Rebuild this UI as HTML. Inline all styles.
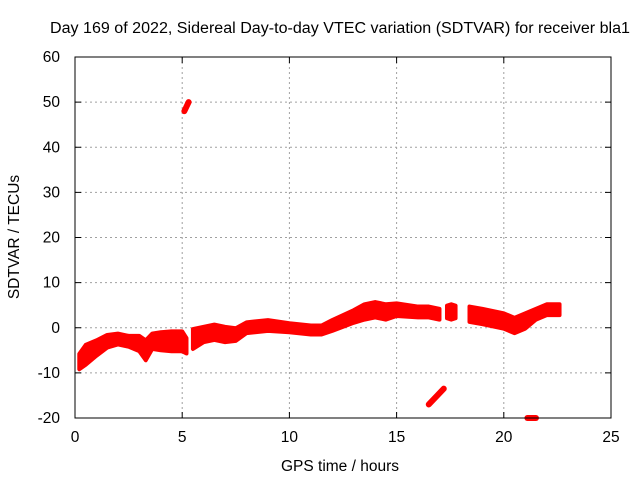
<!DOCTYPE html>
<html><head><meta charset="utf-8"><style>
body{margin:0;background:#fff}
svg{display:block;font-family:"Liberation Sans",sans-serif}
</style></head><body>
<svg width="640" height="480">
<rect width="640" height="480" fill="#fff"/>
<text x="340" y="33" font-size="15.5" text-anchor="middle" textLength="580" lengthAdjust="spacingAndGlyphs">Day 169 of 2022, Sidereal Day-to-day VTEC variation (SDTVAR) for receiver bla1</text>
<g id="grid"></g>
<g id="ticks"></g>
<g id="marks"></g>
<rect x="75" y="57" width="536" height="361" fill="none" stroke="#000"/>
<text x="340" y="471" font-size="15.5" text-anchor="middle">GPS time / hours</text>
<text transform="translate(19,237) rotate(-90)" font-size="15.5" text-anchor="middle">SDTVAR / TECUs</text>
</svg>
<script>
const xTicks=[0,5,10,15,20,25];
const yTicks=[-20,-10,0,10,20,30,40,50,60];
// main band: time, centre value, half-width
const bandA_t=[0.2,0.5,1.0,1.5,2.0,2.5,3.0,3.3,3.6,4.0,4.5,5.0,5.2];
const bandA_v=[-7.5,-6,-4.5,-3,-2.5,-3,-3.5,-5,-3,-3,-3,-3,-4];
const bandA_w=[1.7,2.2,1.7,1.4,1.2,1.2,1.7,2.2,1.7,2,2.2,2.2,1.7];
const bandB_t=[5.5,6.0,6.5,7.0,7.5,8.0,9.0,10.0,11.0,11.5,12.0,13.0,13.5,14.0,14.5,15.0,16.0,16.5,17.0];
const bandB_v=[-2.5,-1.5,-1,-1.5,-1.5,0,0.5,0,-0.5,-0.5,0.5,2.5,3.5,4,3.5,4,3.5,3.5,3];
const bandB_w=[2.2,1.7,1.7,1.7,1.4,1.2,1.2,1,1,1,1.2,1.4,1.7,1.7,1.7,1.4,1.2,1.2,1.2];
const bandC_t=[17.35,17.55,17.75];
const bandC_v=[3.5,3.5,3.5];
const bandC_w=[1.4,1.7,1.4];
const bandD_t=[18.4,19.0,19.5,20.0,20.5,21.0,21.5,22.0,22.6];
const bandD_v=[3,2.5,2,1.5,0.5,1.5,3,4,4];
const bandD_w=[1.7,1.7,1.7,1.7,1.7,1.7,1.2,1.2,1.2];
const out1_t=[5.1,5.3]; const out1_v=[48,50];
const out2_t=[16.5,17.2]; const out2_v=[-17,-13.5];
const out3_t=[21.1,21.5]; const out3_v=[-20,-20];
const X=t=>75+t*(536/25);
const Y=v=>418-(v+20)*(361/80);
const NS='http://www.w3.org/2000/svg';
function mk(tag,attrs,parent){const e=document.createElementNS(NS,tag);for(const k in attrs)e.setAttribute(k,attrs[k]);parent.appendChild(e);return e;}
const grid=document.getElementById('grid'),ticks=document.getElementById('ticks'),marks=document.getElementById('marks');
xTicks.forEach(t=>{
  if(t>0&&t<25){const l=mk('line',{x1:X(t),x2:X(t),y1:57,y2:418,stroke:'#a0a0a0','stroke-dasharray':'2,3'},grid);
  
  }
  mk('line',{x1:X(t),x2:X(t),y1:418,y2:412,stroke:'#000'},grid);
  mk('line',{x1:X(t),x2:X(t),y1:57,y2:63,stroke:'#000'},grid);
  const tx=mk('text',{x:X(t),y:442,'font-size':15.5,'text-anchor':'middle'},ticks);tx.textContent=t;
  
  
});
yTicks.forEach(v=>{
  if(v>-20&&v<60){const l=mk('line',{x1:75,x2:611,y1:Y(v),y2:Y(v),stroke:'#a0a0a0','stroke-dasharray':'2,3'},grid);
  
  }
  mk('line',{x1:75,x2:81,y1:Y(v),y2:Y(v),stroke:'#000'},grid);
  mk('line',{x1:611,x2:605,y1:Y(v),y2:Y(v),stroke:'#000'},grid);
  const tx=mk('text',{x:60,y:Y(v)+5,'font-size':15.5,'text-anchor':'end'},ticks);tx.textContent=v;
  
  
});
function band(ts,vs,ws){
  const top=ts.map((t,i)=>X(t)+','+Y(vs[i]+ws[i]));
  const bot=ts.map((t,i)=>X(t)+','+Y(vs[i]-ws[i])).reverse();
  const p=mk('polygon',{points:top.concat(bot).join(' '),fill:'#ff0000',stroke:'#ff0000','stroke-width':4,'stroke-linejoin':'round'},marks);
  
  
}
function seg(ts,vs){
  const l=mk('polyline',{points:ts.map((t,i)=>X(t)+','+Y(vs[i])).join(' '),fill:'none',stroke:'#ff0000','stroke-width':6,'stroke-linecap':'round'},marks);
  
  
}
band(bandA_t,bandA_v,bandA_w);band(bandB_t,bandB_v,bandB_w);band(bandC_t,bandC_v,bandC_w);band(bandD_t,bandD_v,bandD_w);
seg(out1_t,out1_v);seg(out2_t,out2_v);seg(out3_t,out3_v);
</script>
</body></html>
